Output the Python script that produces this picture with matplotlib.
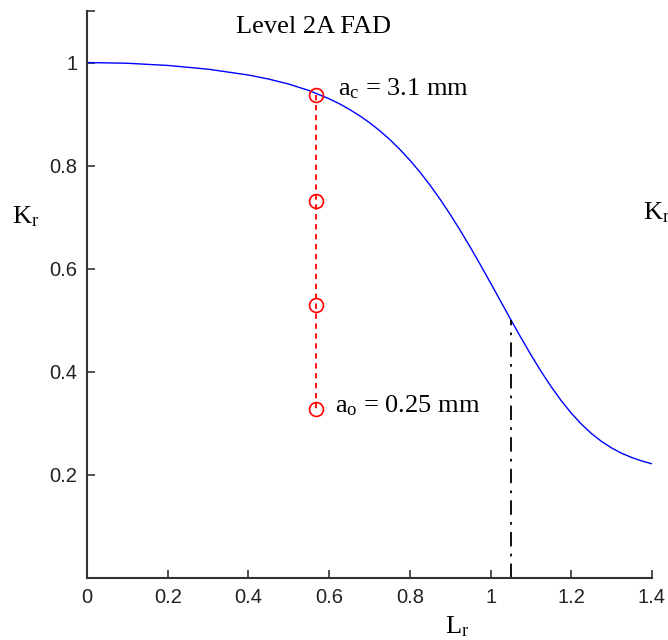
import matplotlib
matplotlib.use("Agg")
import matplotlib.pyplot as plt

# FAD curve values
Lr = [0.0, 0.1, 0.2, 0.3, 0.4, 0.45, 0.5, 0.55, 0.6, 0.625, 0.65, 0.675, 0.7, 0.725,
      0.75, 0.775, 0.8, 0.825, 0.85, 0.875, 0.9, 0.925, 0.95, 0.975, 1.0, 1.025,
      1.05, 1.075, 1.1, 1.125, 1.15, 1.175, 1.2, 1.225, 1.25, 1.275, 1.3, 1.325,
      1.35, 1.375, 1.4]
Kr = [1.0, 0.9986, 0.9944, 0.9871, 0.9758, 0.9680, 0.9582, 0.9457, 0.9297, 0.9202,
      0.9093, 0.8971, 0.8834, 0.8680, 0.8508, 0.8317, 0.8106, 0.7874, 0.7621, 0.7347,
      0.7053, 0.6741, 0.6414, 0.6073, 0.5723, 0.5368, 0.5014, 0.4666, 0.4330, 0.4011,
      0.3713, 0.3441, 0.3198, 0.2985, 0.2802, 0.2649, 0.2522, 0.2419, 0.2337, 0.2270,
      0.2215]

# crack growth assessment points
pt_x = [0.567, 0.567, 0.567, 0.567]
pt_y = [0.938, 0.732, 0.529, 0.327]

# cut-off line
cut_x = 1.05
cut_y = 0.501

xticks = [0, 0.2, 0.4, 0.6, 0.8, 1.0, 1.2, 1.4]
xticklabels = ["0", "0.2", "0.4", "0.6", "0.8", "1", "1.2", "1.4"]
yticks = [0.2, 0.4, 0.6, 0.8, 1.0]
yticklabels = ["0.2", "0.4", "0.6", "0.8", "1"]

plt.rcParams['mathtext.fontset'] = 'custom'
plt.rcParams['mathtext.rm'] = 'Liberation Serif'
plt.rcParams['mathtext.it'] = 'Liberation Serif'

fig = plt.figure(figsize=(6.68, 6.4), dpi=100)
ax = fig.add_axes([87/668, 1-578/640, (652-87)/668, (578-11)/640])

ax.plot(Lr, Kr, color='#0000ff', lw=1.0)
ax.plot(pt_x, pt_y, color='#ff0000', lw=1.3, ls=(0, (3, 2.5)),
        marker='o', mfc='none', mec='#ff0000', ms=10, mew=1.2)
ax.plot([cut_x, cut_x], [0, cut_y], color='black', lw=1.3, ls=(0, (8, 4, 1.5, 4)))

ax.set_xlim(0, 1.4)
ax.set_ylim(0, 1.1)
ax.spines['top'].set_visible(False)
ax.spines['right'].set_visible(False)
for s in ['left', 'bottom']:
    ax.spines[s].set_linewidth(1.5)
    ax.spines[s].set_color('#333333')
ax.set_xticks(xticks)
ax.set_xticklabels(xticklabels)
ax.set_yticks(yticks)
ax.set_yticklabels(yticklabels)
ax.set_yticks([1.1], minor=True)
ax.tick_params(direction='in', length=6, width=1.2, color='#333333',
               labelsize=14.5, labelcolor='#222222', pad=7)
ax.tick_params(which='minor', direction='in', length=6, width=1.2, color='#333333', left=True)
for lab in ax.get_xticklabels() + ax.get_yticklabels():
    lab.set_family('Liberation Sans')

serif = 'Liberation Serif'
ax.text(0.562, 1.058, 'Level 2A FAD', family=serif, fontsize=19, ha='center', va='baseline')
ax.text(0.622, 0.936, r'a$_\mathrm{c}$ = 3.1 mm', family=serif, fontsize=19, va='baseline')
ax.text(0.614, 0.322, r'a$_\mathrm{o}$ = 0.25 mm', family=serif, fontsize=19, va='baseline')
ax.text(-0.186, 0.688, r'K$_\mathrm{r}$', family=serif, fontsize=19, va='baseline', clip_on=False)
ax.text(1.378, 0.696, r'K$_\mathrm{r}$', family=serif, fontsize=19, va='baseline', clip_on=False)
ax.text(0.887, -0.107, r'L$_\mathrm{r}$', family=serif, fontsize=19, va='baseline', clip_on=False)

fig.savefig('out.png', dpi=100)
